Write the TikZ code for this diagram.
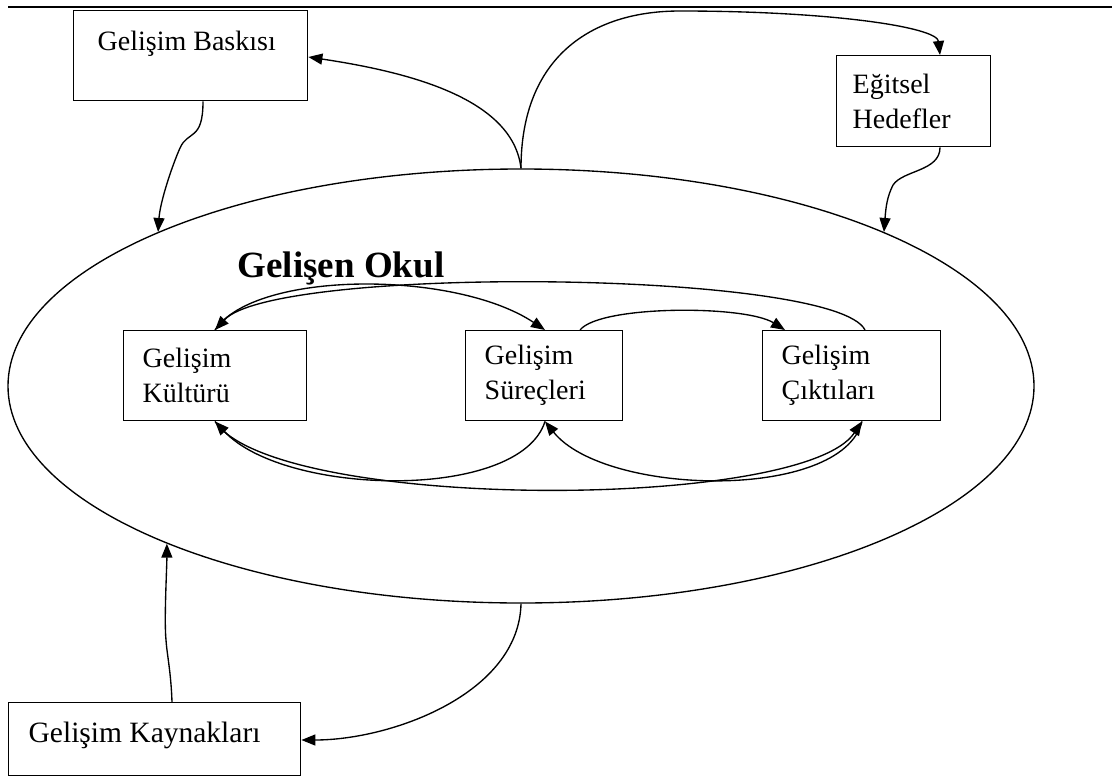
\documentclass[tikz,border=0pt]{standalone}
\usepackage{fontspec}
\setmainfont{Liberation Serif}
\usetikzlibrary{arrows.meta,calc,shapes.geometric}
\begin{document}
\begin{tikzpicture}[x=1pt,y=-1pt,
  line width=1.35pt,
  >={Triangle[length=14pt,width=11pt]},
  conn/.style={->},
  plainbox/.style={draw,line width=1.4pt,rectangle,inner sep=0pt,anchor=north west},
  innerbox/.style={draw,line width=1.4pt,rectangle,anchor=north west,align=left,
    minimum height=90pt,inner xsep=19pt,inner ysep=0pt,text width=#1,
    font=\fontsize{28}{35}\selectfont},
  txt/.style={anchor=west,inner sep=0pt,font=\fontsize{28}{35}\selectfont}
]
\useasboundingbox (0,0) rectangle (1118,776);
% top rule
\draw[line width=2.8pt] (8,7) -- (1112,7);

% outer boxes
\node[plainbox,minimum width=234pt,minimum height=90pt] (bask) at (73,10) {};
\node[txt] (baskt) at (97,44) {Gelişim Baskısı};
\node[innerbox=122pt,inner xsep=16pt,minimum height=91pt] (hedef) at (836,55) {Eğitsel\\Hedefler};
\node[plainbox,minimum width=292pt,minimum height=73pt] (kayn) at (8,702) {};
\node[txt,font=\fontsize{29.5}{35}\selectfont] (kaynt) at (28,735) {Gelişim Kaynakları};

% ellipse
\node[draw,ellipse,line width=1.35pt,minimum width=1026pt,minimum height=434pt,inner sep=0pt] (okul) at (521,386) {};
\node[inner sep=0pt,font=\fontsize{37}{40}\selectfont\bfseries] (title) at (341,268) {Gelişen Okul};

% inner boxes
\node[innerbox=145pt] (kul) at (123,330) {Gelişim\\Kültürü};
\node[innerbox=119pt] (sur) at (465,330) {Gelişim\\Süreçleri};
\node[innerbox=140pt] (cik) at (762,330) {Gelişim\\Çıktıları};

% outer connectors
\draw[conn] (okul.north) .. controls +(-8,-70) and +(100,15) .. (bask.east|-0,57);
\draw[conn] (okul.north) .. controls +(0,-110) and +(-90,0) .. (680,11)
   .. controls +(150,0) and +(-3,-28) .. ($(hedef.north west)+(104,0)$);
\draw[conn] ($(bask.south west)+(130,0)$) .. controls +(0,40) and +(8,-18) .. (180,148)
   .. controls +(-8,18) and +(2,-30) .. (okul.157);
\draw[conn] ($(hedef.south west)+(104,0)$) .. controls +(0,24) and +(10,-15) .. (893,185)
   .. controls +(-6,12) and +(2,-25) .. (okul.23);
\draw[conn] (okul.south) .. controls +(-2,90) and +(90,0) .. (kayn.east|-0,740);
\draw[conn] ($(kayn.north west)+(164,0)$) .. controls +(-1,-30) and +(1,15) .. (166,640)
   .. controls +(-2,-20) and +(0,25) .. (okul.204);

% inner top connectors
\draw[conn] ($(kul.north west)+(92,0)$) .. controls +(40,-60) and +(-90,-60) .. ($(sur.north west)+(80,0)$);
\draw[conn] ($(sur.north west)+(115,0)$) .. controls +(20,-25) and +(-40,-25) .. ($(cik.north west)+(23,0)$);
\draw[conn] ($(cik.north west)+(103,0)$) .. controls +(-30,-60) and +(60,-65) .. ($(kul.north west)+(92,0)$);

% inner bottom connectors
\draw[conn] ($(sur.south west)+(80,0)$) .. controls +(-25,80) and +(70,75) .. ($(kul.south west)+(92,0)$);
\draw[conn] ($(cik.south west)+(100,0)$) .. controls +(-20,80) and +(60,75) .. ($(sur.south west)+(80,0)$);
\draw[conn] ($(kul.south west)+(92,0)$) .. controls +(60,90) and +(-60,90) .. ($(cik.south west)+(100,0)$);
\end{tikzpicture}
\end{document}
